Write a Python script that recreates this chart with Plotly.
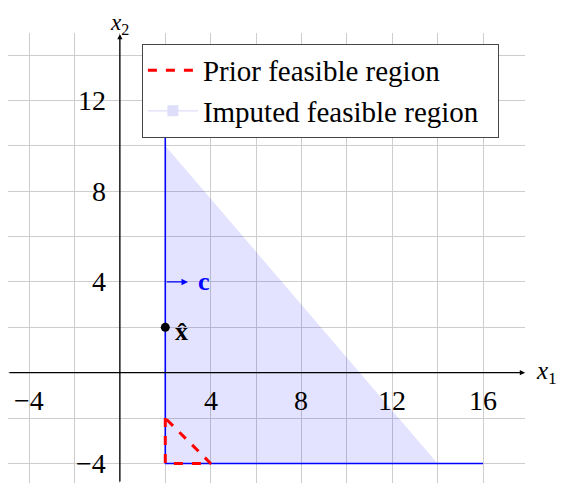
import plotly.graph_objects as go

# ---- data ----
imputed_x = [2, 2, 14]
imputed_y = [-4, 10, -4]
bound_vert_x = [2, 2]
bound_vert_y = [12, -4]
bound_horiz_x = [2, 16]
bound_horiz_y = [-4, -4]
prior_x = [2, 2, 4, 2]
prior_y = [-2, -4, -4, -2]
xhat = (2, 2)
c_start = (2, 4)
c_end = (3, 4)
x_ticks = [-4, 4, 8, 12, 16]
y_ticks = [-4, 4, 8, 12]
grid_vals_x = list(range(-4, 18, 2))
grid_vals_y = list(range(-4, 16, 2))
series_names = ["Prior feasible region", "Imputed feasible region"]

XR = [-4.93, 17.85]
YR = [-4.86, 14.97]
FONT = "Liberation Serif, Times New Roman, DejaVu Serif, serif"
FS = 28
PAD = "\u00a0\u00a0"

fig = go.Figure()

# imputed feasible region fill
fig.add_trace(go.Scatter(x=imputed_x, y=imputed_y, fill="toself", mode="none",
                         fillcolor="rgba(0,0,255,0.11)", showlegend=False, hoverinfo="skip"))
# boundary lines
fig.add_trace(go.Scatter(x=bound_vert_x, y=bound_vert_y, mode="lines",
                         line=dict(color="blue", width=1.6), showlegend=False))
fig.add_trace(go.Scatter(x=bound_horiz_x, y=bound_horiz_y, mode="lines",
                         line=dict(color="blue", width=1.6), showlegend=False))
# prior feasible region
fig.add_trace(go.Scatter(x=prior_x, y=prior_y, mode="lines", name=series_names[0] + PAD,
                         line=dict(color="red", width=3, dash="dash")))
# legend entry for imputed region
fig.add_trace(go.Scatter(x=[None], y=[None], mode="lines+markers", name=series_names[1] + PAD,
                         line=dict(color="rgb(222,222,250)", width=1.2),
                         marker=dict(symbol="square", size=11, color="rgb(222,222,250)")))
# point x-hat
fig.add_trace(go.Scatter(x=[xhat[0]], y=[xhat[1]], mode="markers",
                         marker=dict(color="black", size=9), showlegend=False))

annotations = []
# axes with arrows
annotations.append(dict(x=XR[1], y=0, ax=XR[0], ay=0, xref="x", yref="y", axref="x", ayref="y",
                        showarrow=True, arrowhead=2, arrowsize=0.8, arrowwidth=1.3, arrowcolor="black", text=""))
annotations.append(dict(x=0, y=YR[1] - 0.05, ax=0, ay=YR[0], xref="x", yref="y", axref="x", ayref="y",
                        showarrow=True, arrowhead=2, arrowsize=0.8, arrowwidth=1.3, arrowcolor="black", text=""))
# c arrow
annotations.append(dict(x=c_end[0], y=c_end[1], ax=c_start[0], ay=c_start[1], xref="x", yref="y",
                        axref="x", ayref="y", showarrow=True, arrowhead=2, arrowsize=1.0,
                        arrowwidth=1.3, arrowcolor="blue", text=""))
annotations.append(dict(x=c_end[0] + 0.35, y=c_end[1], xref="x", yref="y", showarrow=False,
                        text="<b>c</b>", font=dict(family=FONT, size=FS - 2, color="blue"),
                        xanchor="left", yanchor="middle"))
annotations.append(dict(x=xhat[0] + 0.35, y=xhat[1] - 0.2, xref="x", yref="y", showarrow=False,
                        text="<b>x\u0302</b>", font=dict(family=FONT, size=FS - 2, color="black"),
                        xanchor="left", yanchor="middle"))
# axis labels
annotations.append(dict(x=1, y=0, xref="paper", yref="y", showarrow=False, xshift=9,
                        text="<i>x</i><sub>1</sub>", font=dict(family=FONT, size=25, color="black"),
                        xanchor="left", yanchor="middle"))
annotations.append(dict(x=0, y=1, xref="x", yref="paper", showarrow=False, yshift=9,
                        text="<i>x</i><sub>2</sub>", font=dict(family=FONT, size=23, color="black"),
                        xanchor="center", yanchor="middle"))
# tick labels
for v in x_ticks:
    annotations.append(dict(x=v, y=0, xref="x", yref="y", showarrow=False, text=("\u2212" + str(-v)) if v < 0 else str(v),
                            font=dict(family=FONT, size=FS, color="black"), xanchor="center", yanchor="top",
                            yshift=-10))
for v in y_ticks:
    annotations.append(dict(x=0, y=v, xref="x", yref="y", showarrow=False, text=("\u2212" + str(-v)) if v < 0 else str(v),
                            font=dict(family=FONT, size=FS, color="black"), xanchor="right", yanchor="middle",
                            xshift=-12))

fig.update_layout(
    width=556, height=479,
    margin=dict(l=0, r=39, t=25, b=4),
    plot_bgcolor="white", paper_bgcolor="white",
    font=dict(family=FONT, size=FS, color="black"),
    showlegend=True,
    legend=dict(x=0.259, y=0.976, xanchor="left", yanchor="top",
                bgcolor="white", bordercolor="rgb(70,70,70)", borderwidth=1,
                font=dict(family=FONT, size=29, color="black"), itemwidth=50,
                tracegroupgap=0),
    annotations=annotations,
    xaxis=dict(range=XR, tickvals=grid_vals_x, showticklabels=False, showgrid=True,
               gridcolor="rgb(205,205,205)", gridwidth=1, zeroline=False, showline=False, ticks=""),
    yaxis=dict(range=YR, tickvals=grid_vals_y, showticklabels=False, showgrid=True,
               gridcolor="rgb(205,205,205)", gridwidth=1, zeroline=False, showline=False, ticks=""),
)

fig.write_html("out.html")
